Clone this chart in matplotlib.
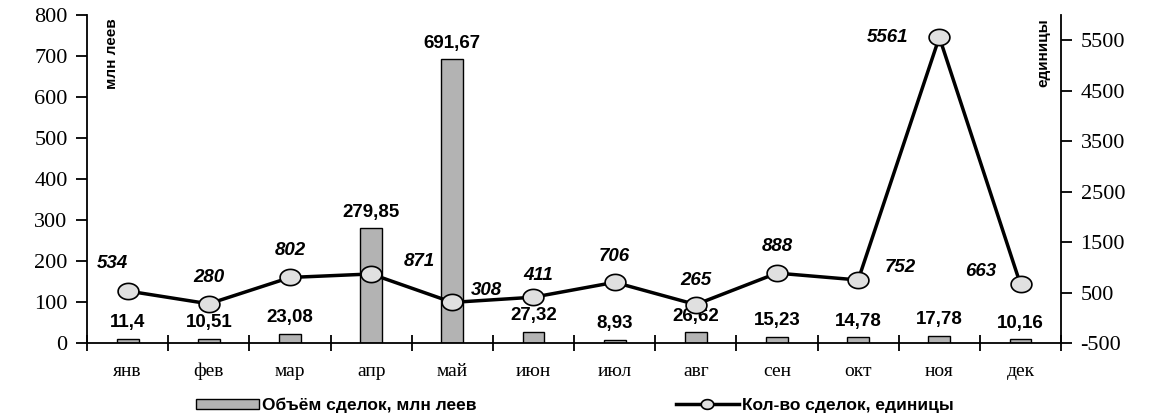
import numpy as np
import matplotlib.pyplot as plt
from matplotlib.path import Path

plt.rcParams["axes.unicode_minus"] = False

months = ["янв", "фев", "мар", "апр", "май", "июн",
          "июл", "авг", "сен", "окт", "ноя", "дек"]
volume = [11.4, 10.51, 23.08, 279.85, 691.67, 27.32,
          8.93, 26.62, 15.23, 14.78, 17.78, 10.16]
volume_labels = ["11,4", "10,51", "23,08", "279,85", "691,67", "27,32",
                 "8,93", "26,62", "15,23", "14,78", "17,78", "10,16"]
deals = [534, 280, 802, 871, 308, 411, 706, 265, 888, 752, 5561, 663]

# label offsets for line values (pixels)
deal_offsets = [(-15, 27), (0, 26), (0, 27), (48, 12), (34, 12), (5, 22),
                (0, 26), (0, 24), (0, 27), (42, 12), (-52, 0), (-40, 13)]

serif = "Liberation Serif"
sans = "Liberation Sans"

fig = plt.figure(figsize=(11.5, 4.17), dpi=100)
ax = fig.add_axes([0.0757, 0.177, 0.847, 0.787])
x = np.arange(len(months))

ax.bar(x, volume, width=0.27, color="#b3b3b3", edgecolor="black",
       linewidth=1, zorder=2, label="Объём сделок, млн леев")
for xi, v, s in zip(x, volume, volume_labels):
    ax.annotate(s, (xi, v), xytext=(0, 16), textcoords="offset pixels",
                ha="center", va="center", fontfamily=sans,
                fontweight="bold", fontsize=13.5)

ax.set_xlim(-0.5, 11.5)
ax.set_ylim(0, 800)
ax.set_yticks(np.arange(0, 801, 100))
ax.set_xticks(x)
ax.set_xticklabels(months, fontfamily=serif, fontsize=14)
ax.set_xticks(np.arange(-0.5, 12, 1), minor=True)
ax.tick_params(axis="x", which="major", length=0, pad=14)
ax.tick_params(axis="x", which="minor", direction="inout", length=11,
               width=1.3)
ax.tick_params(axis="y", direction="out", length=8, width=1.3, pad=6)
for lbl in ax.get_yticklabels():
    lbl.set_fontfamily(serif)
    lbl.set_fontsize(16)
ax.spines["top"].set_visible(False)
ax.spines["right"].set_visible(False)
ax.spines["left"].set_linewidth(1.3)
ax.spines["bottom"].set_linewidth(1.3)
ax.text(0.026, 0.99, "млн леев", transform=ax.transAxes, rotation=90,
        ha="center", va="top", fontsize=11, fontweight="bold",
        fontfamily=["Liberation Sans Narrow", sans])

ax2 = ax.twinx()
ax2.set_ylim(-500, 6000)
ax2.set_yticks(np.arange(-500, 5600, 1000))
ax2.tick_params(axis="y", direction="out", length=8, width=1.3, pad=6)
for lbl in ax2.get_yticklabels():
    lbl.set_fontfamily(serif)
    lbl.set_fontsize(16)
for side in ["top", "left", "bottom"]:
    ax2.spines[side].set_visible(False)
ax2.spines["right"].set_linewidth(1.3)

t = np.linspace(0, 2 * np.pi, 40)
ellipse = Path(np.column_stack([np.cos(t), 0.78 * np.sin(t)]), closed=True)
ax2.plot(x, deals, color="black", linewidth=2.5, marker=ellipse,
         markersize=15, markerfacecolor="#e0e0e0", markeredgecolor="black",
         markeredgewidth=1.2, zorder=3, label="Кол-во сделок, единицы")
for xi, d, off in zip(x, deals, deal_offsets):
    ax2.annotate(str(d), (xi, d), xytext=off, textcoords="offset pixels",
                 ha="center", va="center", fontfamily=sans,
                 fontweight="bold", fontstyle="italic", fontsize=13.5)
ax2.text(0.982, 0.99, "единицы", transform=ax2.transAxes, rotation=90,
         ha="center", va="top", fontsize=11, fontweight="bold",
         fontfamily=["Liberation Sans Narrow", sans])

h1, l1 = ax.get_legend_handles_labels()
h2, l2 = ax2.get_legend_handles_labels()
fig.legend(h1 + h2, l1 + l2, loc="lower center", bbox_to_anchor=(0.5, -0.028),
           ncol=2, frameon=False, handlelength=3.6, handleheight=0.5,
           handletextpad=0.2, columnspacing=11.5, markerscale=0.6,
           prop={"family": sans, "weight": "bold", "size": 12.5})

fig.savefig("out.png", dpi=100)
